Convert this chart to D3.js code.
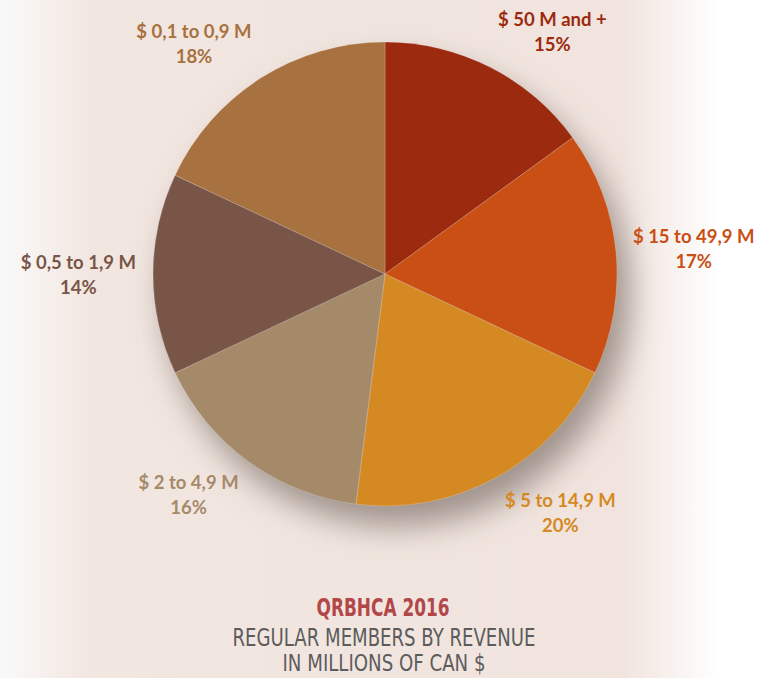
<!DOCTYPE html>
<html>
<head>
<meta charset="utf-8">
<script src="https://cdn.jsdelivr.net/npm/d3@7"></script>
<style>
  body { margin: 0; background: #fff; }
  svg { display: block; }
</style>
</head>
<body>
<svg id="chart"></svg>
<script>
const categories = ["$ 50 M and +", "$ 15 to 49,9 M", "$ 5 to 14,9 M", "$ 2 to 4,9 M", "$ 0,5 to 1,9 M", "$ 0,1 to 0,9 M"];
const shares = [15, 17, 20, 16, 14, 18];
const sliceColors = ["#9c2a0e", "#c94f14", "#d58922", "#a58a6a", "#795548", "#a77140"];
const labelColors = ["#9c2a0e", "#c94f14", "#d58922", "#a58a6a", "#795548", "#a77140"];
const titleLines = ["QRBHCA 2016", "REGULAR MEMBERS BY REVENUE", "IN MILLIONS OF CAN $"];

const width = 759, height = 678;
const cx = 385, cy = 274, radius = 232;

const svg = d3.select("#chart").attr("width", width).attr("height", height);
const defs = svg.append("defs");

// page background: pink band fading to white at both sides
const bg = defs.append("linearGradient").attr("id", "bg").attr("x1", 0).attr("x2", 1);
[[0, "#f8f9fa"], [0.015, "#f9f7f6"], [0.12, "#f2e6e0"], [0.82, "#f1e4de"], [0.945, "#ffffff"], [1, "#ffffff"]]
  .forEach(([o, c]) => bg.append("stop").attr("offset", o).attr("stop-color", c));
svg.append("rect").attr("width", width).attr("height", height).attr("fill", "url(#bg)");

// soft shadow, clipped to plot area
const f = defs.append("filter").attr("id", "shadow")
  .attr("x", "-30%").attr("y", "-30%").attr("width", "160%").attr("height", "160%");
f.append("feGaussianBlur").attr("in", "SourceAlpha").attr("stdDeviation", 16);
f.append("feOffset").attr("dx", 12).attr("dy", 20).attr("result", "b");
f.append("feFlood").attr("flood-color", "#7a6d67").attr("flood-opacity", 0.7);
f.append("feComposite").attr("in2", "b").attr("operator", "in");

defs.append("clipPath").attr("id", "plotClip")
  .append("rect").attr("x", 25).attr("y", 0).attr("width", 692).attr("height", 573);

const pie = d3.pie().sort(null).value(d => d);
const arcs = pie(shares);
const arc = d3.arc().innerRadius(0).outerRadius(radius);
const labelArc = d3.arc().innerRadius(radius + 17).outerRadius(radius + 17);

svg.append("g").attr("clip-path", "url(#plotClip)")
  .append("circle")
  .attr("cx", cx).attr("cy", cy).attr("r", radius)
  .attr("fill", "#000").attr("filter", "url(#shadow)");

const g = svg.append("g").attr("transform", `translate(${cx},${cy})`);

g.selectAll("path")
  .data(arcs)
  .join("path")
  .attr("d", arc)
  .attr("fill", (d, i) => sliceColors[i])
  .attr("stroke", "rgba(255,255,255,0.25)")
  .attr("stroke-width", 0.8);

// outside labels, box pushed outward from anchor point
const labels = g.selectAll("text.lbl")
  .data(arcs)
  .join("text")
  .attr("class", "lbl")
  .attr("text-anchor", "middle")
  .attr("font-family", "Lato, 'Open Sans', sans-serif")
  .attr("font-weight", 700)
  .attr("font-size", 18.5)
  .attr("fill", (d, i) => labelColors[i]);

labels.append("tspan").attr("x", 0).attr("dy", 0).text((d, i) => categories[i]);
labels.append("tspan").attr("x", 0).attr("dy", 25).text(d => d.value + "%");

labels.each(function (d) {
  const box = this.getBBox();
  const [ax, ay] = labelArc.centroid(d);
  const a = (d.startAngle + d.endAngle) / 2;
  const ox = ax + Math.sign(Math.sin(a)) * box.width / 2;
  const oy = ay - Math.cos(a) * box.height / 2;
  const boxCy = box.y + box.height / 2;
  d3.select(this).attr("transform", `translate(${ox},${oy - boxCy})`);
});

// title block, condensed face squeezed to the reference widths
const title = svg.append("text")
  .attr("text-anchor", "middle")
  .attr("font-family", "'DejaVu Sans Condensed', 'DejaVu Sans', sans-serif")
  .attr("font-stretch", "condensed");
title.append("tspan").attr("x", cx - 2).attr("y", 616)
  .attr("font-weight", 700).attr("font-size", 24).attr("fill", "#b2474a")
  .attr("textLength", 133).attr("lengthAdjust", "spacingAndGlyphs")
  .text(titleLines[0]);
title.append("tspan").attr("x", cx - 1).attr("y", 646)
  .attr("font-size", 25).attr("fill", "#5c5c5c")
  .attr("textLength", 303).attr("lengthAdjust", "spacingAndGlyphs")
  .text(titleLines[1]);
title.append("tspan").attr("x", cx - 1).attr("y", 671)
  .attr("font-size", 23).attr("fill", "#5c5c5c")
  .attr("textLength", 203).attr("lengthAdjust", "spacingAndGlyphs")
  .text(titleLines[2]);
</script>
</body>
</html>
